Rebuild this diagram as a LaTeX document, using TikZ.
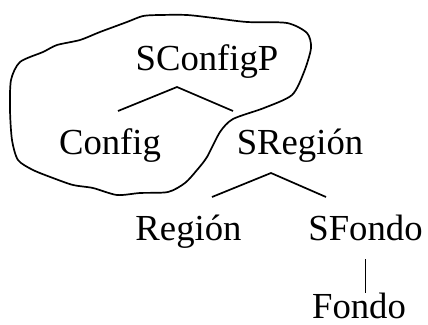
\documentclass[tikz,border=0pt]{standalone}
\usepackage{fontspec}
\setmainfont{Liberation Serif}
\begin{document}
\begin{tikzpicture}[x=1pt,y=-1pt,
  label/.style={anchor=base,inner sep=0pt,font=\fontsize{36.7}{40}\selectfont},
  branch/.style={line width=1.7pt},
  outline/.style={line width=1.7pt,line join=round}]
\useasboundingbox (0,0) rectangle (428,324);

% tree labels
\node[label] (sc)  at (207,70)  {SConfigP};
\node[label] (cfg) at (110,154) {Config};
\node[label] (sr)  at (300,154) {SRegión};
\node[label] (reg) at (188.5,240) {Región};
\node[label] (sf)  at (365.5,240) {SFondo};
\node[label] (fo)  at (359,318) {Fondo};

% branch points
\coordinate (scA) at (177,87);
\coordinate (scL) at (118,111);
\coordinate (scR) at (233,111);
\coordinate (srA) at (271,173);
\coordinate (srL) at (212,197);
\coordinate (srR) at (326,197);
\coordinate (sfT) at (365.5,259);
\coordinate (sfB) at (365.5,293);

\draw[branch] (scL) -- (scA) -- (scR);
\draw[branch] (srL) -- (srA) -- (srR);
\draw[branch] (sfT) -- (sfB);

% hand-drawn outline around the upper part
\draw[outline] plot[smooth cycle,tension=0.45] coordinates {
  (20,62) (43,52) (57,45) (80,40) (100,32) (127,22) (143,16) (160,15)
  (187,15) (214,18) (247,22) (287,23) (307,33) (311,48) (304,72)
  (292,95) (264,108) (233,119) (220,132) (207,157) (197,170) (185,183)
  (168,192) (140,193) (117,195) (93,188) (73,185) (53,178) (33,170)
  (18,160) (12,140) (10,110) (11,80)};
\end{tikzpicture}
\end{document}
